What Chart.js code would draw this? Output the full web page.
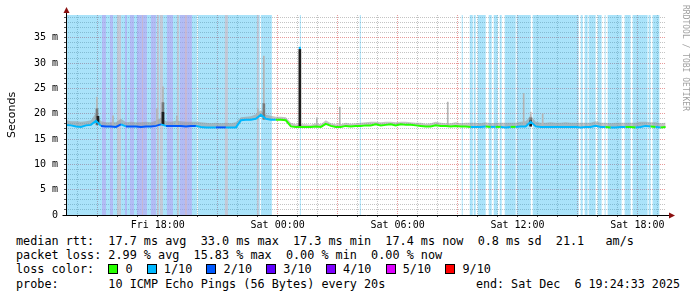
<!DOCTYPE html>
<html>
<head>
<meta charset="utf-8">
<script src="https://cdn.jsdelivr.net/npm/chart.js@4/dist/chart.umd.min.js"></script>
<style>
  html, body { margin: 0; padding: 0; background: #fff; }
  #wrap { position: relative; width: 697px; height: 297px; overflow: hidden; background: #fff; }
  #chart { position: absolute; left: 0; top: 0; }
  .legend { position: absolute; left: 16px; font-family: "DejaVu Sans Mono", monospace; font-size: 11.8px; line-height: 14px; white-space: pre; color: #000; }
  .sw { display: inline-block; width: 8px; height: 8px; border: 1px solid #000; vertical-align: -1px; }
  #end { position: absolute; right: 17px; top: 277px; font-family: "DejaVu Sans Mono", monospace; font-size: 11.7px; line-height: 14px; white-space: pre; }
  #brand { position: absolute; left: 681px; top: 5px; writing-mode: vertical-rl; font-family: "DejaVu Sans Mono", monospace; font-size: 8px; color: #a0a0a0; }
</style>
</head>
<body>
<div id="wrap">
  <canvas id="chart" width="697" height="232"></canvas>
  <div id="brand">RRDTOOL / TOBI OETIKER</div>
  <div class="legend" style="top:234px">median rtt:  17.7 ms avg  33.0 ms max  17.3 ms min  17.4 ms now  0.8 ms sd  21.1   am/s</div>
  <div class="legend" style="top:248px">packet loss: 2.99 % avg  15.83 % max  0.00 % min  0.00 % now</div>
  <div class="legend" id="lossLegend" style="top:262px"></div>
  <div class="legend" style="top:277px">probe:       10 ICMP Echo Pings (56 Bytes) every 20s</div>
  <div id="end">end: Sat Dec  6 19:24:33 2025</div>
</div>
<script>
// time axis in hours since Fri 00:00 (window Fri 13:24:33 .. Sat 19:24:33)
const startHour = 13.41;
const endHour = 43.43;
const stepHours = 0.25;
const yMax = 39.5;

const xTickHours = [18, 24, 30, 36, 42];
const xTickLabels = ['Fri 18:00', 'Sat 00:00', 'Sat 06:00', 'Sat 12:00', 'Sat 18:00'];

const lossColors = ['#26ff00', '#00b8ff', '#0059ff', '#5e00ff', '#7e00ff', '#dd00ff', '#ff0000'];
const lossLabels = ['0', '1/10', '2/10', '3/10', '4/10', '5/10', '9/10'];

// median rtt in ms, one value every 15 minutes
const medianRtt = [
  17.8, 17.7, 17.5, 17.4, 17.7, 17.8, 18.6, 17.6, 17.5, 17.5, 17.4, 17.9,
  17.5, 17.5, 17.5, 17.4, 17.5, 17.5, 17.6, 17.9, 17.6, 17.6, 17.6, 17.6,
  17.5, 17.6, 17.6, 17.4, 17.3, 17.3, 17.3, 17.3, 17.3, 17.3, 17.3, 18.7,
  18.8, 18.8, 19.0, 19.8, 19.0, 18.8, 18.8, 18.8, 18.7, 17.5, 17.4, 17.4,
  17.4, 17.4, 17.5, 17.4, 18.0, 17.6, 17.4, 17.4, 17.6, 17.5, 17.6, 17.6,
  17.7, 17.7, 17.9, 17.7, 17.8, 17.9, 17.7, 17.9, 17.8, 17.8, 17.7, 17.6,
  17.5, 17.5, 17.7, 17.6, 17.6, 17.5, 17.6, 17.5, 17.5, 17.4, 17.4, 17.4,
  17.5, 17.4, 17.4, 17.4, 17.3, 17.4, 17.4, 17.5, 17.5, 18.4, 17.5, 17.4,
  17.4, 17.4, 17.4, 17.4, 17.4, 17.4, 17.4, 17.3, 17.4, 17.4, 17.6, 17.4,
  17.4, 17.3, 17.3, 17.4, 17.4, 17.4, 17.3, 17.4, 17.6, 17.5, 17.4, 17.3,
  17.4
];

// loss level index into lossColors for each median sample
const lossLevel = [
  1, 1, 1, 1, 1, 1, 1, 2, 2, 2, 2, 1,
  2, 2, 2, 2, 2, 2, 2, 1, 2, 2, 2, 2,
  2, 2, 1, 1, 1, 1, 2, 2, 1, 1, 1, 1,
  1, 1, 1, 1, 1, 1, 0, 0, 0, 0, 0, 0,
  0, 0, 0, 0, 0, 0, 0, 0, 0, 0, 0, 0,
  0, 0, 0, 0, 0, 0, 0, 0, 0, 0, 0, 0,
  0, 0, 0, 0, 0, 0, 0, 0, 0, 1, 1, 1,
  0, 1, 0, 1, 1, 0, 1, 1, 1, 1, 1, 1,
  1, 1, 1, 1, 1, 1, 1, 1, 1, 1, 1, 1,
  0, 1, 1, 1, 0, 0, 1, 1, 1, 0, 1, 0,
  0
];

// smoke spread above the median, ms
const smokeUp = [
  0.9, 0.8, 1.0, 1.0, 0.8, 0.9, 1.6, 0.9, 0.8, 0.8, 0.9, 1.1,
  0.8, 0.9, 0.8, 0.9, 0.9, 0.8, 1.0, 1.3, 0.9, 0.8, 1.0, 0.9,
  0.9, 0.8, 0.8, 0.9, 0.9, 0.8, 0.9, 0.8, 0.9, 0.8, 1.0, 0.6,
  0.6, 0.7, 0.9, 0.9, 0.8, 0.8, 0.6, 0.6, 0.6, 0.7, 0.5, 0.5,
  0.5, 0.4, 0.6, 0.5, 0.7, 0.5, 0.5, 0.5, 0.6, 0.5, 0.5, 0.6,
  0.6, 0.7, 0.5, 0.6, 0.6, 0.5, 0.6, 0.5, 0.6, 0.5, 0.5, 0.6,
  0.5, 0.6, 0.7, 0.6, 0.5, 0.6, 0.7, 0.6, 0.7, 0.8, 0.8, 0.7,
  0.8, 0.7, 0.8, 0.8, 0.9, 0.8, 0.8, 0.9, 1.0, 1.3, 0.9, 0.8,
  0.8, 0.9, 0.8, 0.8, 0.9, 0.8, 0.8, 0.9, 0.8, 0.8, 0.9, 0.8,
  0.8, 0.8, 0.9, 0.8, 0.8, 0.8, 0.9, 1.0, 0.8, 0.8, 0.9, 0.8,
  0.8
];

// background bands [start hour, end hour]
const lossBands = [
  [13.41, 19.96], [20.01, 23.11], [23.16, 23.71],
  [25.11, 25.16], [28.11, 28.16], [33.21, 33.26], [33.61, 33.76], [33.81, 33.91],
  [34.01, 34.41], [34.56, 34.71], [34.81, 35.01], [35.11, 35.21], [35.36, 35.91],
  [35.96, 36.66], [36.76, 39.06], [39.16, 39.26], [39.36, 39.51], [39.56, 39.91],
  [40.01, 40.21], [40.36, 40.41], [40.51, 41.21], [41.36, 41.66], [41.76, 42.51],
  [42.56, 42.66], [42.76, 43.11]
];
const heavyLossBands = [
  [15.21, 15.41], [15.61, 15.76], [16.36, 16.46], [16.61, 16.81], [16.96, 17.46],
  [17.66, 17.91], [18.46, 18.76], [19.11, 19.71]
];
const outlierBands = [
  [15.96, 16.16], [17.21, 17.26], [17.96, 18.06], [18.11, 18.26], [18.96, 19.06],
  [19.36, 19.46], [21.36, 21.51], [22.96, 23.06]
];

// single smoke spikes: [hour, low ms, high ms]
const spikesLight = [
  [14.96, 17.8, 23.3], [15.76, 17.6, 19.6], [17.96, 17.6, 21.0], [18.26, 17.8, 25.3],
  [18.96, 17.6, 19.6], [23.01, 18.8, 21.0], [23.31, 18.9, 31.4], [25.96, 17.4, 19.2],
  [27.11, 17.4, 21.3], [32.51, 17.5, 22.3], [36.31, 17.4, 24.0], [36.66, 17.5, 20.3],
  [37.26, 17.4, 20.0]
];
const spikesDark = [
  [14.96, 17.8, 21.0], [18.26, 17.8, 22.2], [23.31, 18.9, 22.0], [36.66, 17.5, 19.2]
];
const spikesBlack = [
  [15.01, 18.0, 19.5], [18.26, 17.9, 20.3], [25.11, 17.4, 32.7], [36.66, 17.6, 18.6]
];
const medianPeak = [[25.11, 33.0, 1]];

function bandPoints(bands) {
  const pts = [];
  bands.forEach(([s, e]) => {
    pts.push({ x: s, y: 0 }, { x: s, y: yMax }, { x: e, y: yMax }, { x: e, y: 0 });
  });
  return pts;
}

function spikeBars(list) {
  return list.map(([h, lo, hi]) => ({ x: h, y: [lo, hi] }));
}

const sampleHours = medianRtt.map((v, i) => startHour + i * stepHours);
const medianPoints = medianRtt.map((v, i) => ({ x: sampleHours[i], y: v }));
const smokeTopPoints = medianRtt.map((v, i) => ({ x: sampleHours[i], y: v + smokeUp[i] }));

const axisPlugin = {
  id: 'rrdAxes',
  afterDatasetsDraw(chart) {
    const { ctx, chartArea } = chart;
    const x0 = Math.round(chartArea.left) + 0.5;
    const y0 = Math.round(chartArea.bottom) + 0.5;
    ctx.save();
    ctx.strokeStyle = '#000';
    ctx.lineWidth = 1;
    ctx.beginPath();
    ctx.moveTo(x0, y0);
    ctx.lineTo(x0, chartArea.top - 4);
    ctx.moveTo(x0 - 4, y0);
    ctx.lineTo(chartArea.right + 4, y0);
    ctx.stroke();
    ctx.fillStyle = '#8b1010';
    ctx.beginPath();
    ctx.moveTo(x0, chartArea.top - 8);
    ctx.lineTo(x0 - 3, chartArea.top - 2);
    ctx.lineTo(x0 + 3, chartArea.top - 2);
    ctx.closePath();
    ctx.fill();
    ctx.beginPath();
    ctx.moveTo(chartArea.right + 9, y0);
    ctx.lineTo(chartArea.right + 3, y0 - 3);
    ctx.lineTo(chartArea.right + 3, y0 + 3);
    ctx.closePath();
    ctx.fill();
    ctx.restore();
  }
};

const gridColor = (v, step) => (v % step === 0 ? '#e89a9a' : '#c4c4c4');

new Chart(document.getElementById('chart'), {
  type: 'line',
  data: {
    datasets: [
      {
        label: 'median',
        data: medianPoints,
        borderWidth: 2,
        pointRadius: 0,
        fill: false,
        order: 0,
        segment: { borderColor: ctx => lossColors[lossLevel[ctx.p0DataIndex]] }
      },
      {
        type: 'scatter',
        label: 'peak',
        data: medianPeak.map(([h, v]) => ({ x: h, y: v })),
        pointStyle: 'rect',
        pointRadius: 1.5,
        pointBackgroundColor: medianPeak.map(p => lossColors[p[2]]),
        pointBorderWidth: 0,
        order: 0
      },
      {
        type: 'bar', label: 'black', data: spikeBars(spikesBlack),
        backgroundColor: '#1e1e1e', barThickness: 2, grouped: false, order: 1
      },
      {
        type: 'bar', label: 'dark', data: spikeBars(spikesDark),
        backgroundColor: '#7a7a7a', barThickness: 2, grouped: false, order: 2
      },
      {
        type: 'bar', label: 'light', data: spikeBars(spikesLight),
        backgroundColor: '#b4b4b4', barThickness: 1, grouped: false, order: 3
      },
      {
        label: 'smokeBase', data: medianPoints,
        borderWidth: 0, pointRadius: 0, fill: false, order: 5
      },
      {
        label: 'smokeTop', data: smokeTopPoints,
        borderWidth: 0, pointRadius: 0, fill: { target: 5 },
        backgroundColor: 'rgba(150,150,150,0.55)', order: 4
      },
      {
        label: 'outliers', data: bandPoints(outlierBands),
        borderWidth: 0, pointRadius: 0, fill: 'origin',
        backgroundColor: 'rgba(213,182,190,0.6)', order: 6
      },
      {
        label: 'heavy', data: bandPoints(heavyLossBands),
        borderWidth: 0, pointRadius: 0, fill: 'origin',
        backgroundColor: 'rgba(186,149,240,0.5)', order: 7
      },
      {
        label: 'loss', data: bandPoints(lossBands),
        borderWidth: 0, pointRadius: 0, fill: 'origin',
        backgroundColor: 'rgba(12,175,241,0.35)', order: 8
      }
    ]
  },
  options: {
    responsive: false,
    animation: false,
    events: [],
    layout: { padding: { top: 15, right: 31, left: 0, bottom: 0 } },
    plugins: { legend: { display: false }, tooltip: { enabled: false } },
    scales: {
      x: {
        type: 'linear',
        min: startHour,
        max: endHour,
        offset: false,
        afterFit: s => { s.height = 17; },
        border: { display: false, dash: [1, 1] },
        grid: {
          offset: false,
          color: ctx => gridColor(ctx.tick.value, 3),
          tickColor: '#555',
          tickLength: 2,
          tickBorderDash: []
        },
        ticks: {
          stepSize: 1,
          autoSkip: false,
          includeBounds: false,
          maxRotation: 0,
          padding: 2,
          color: '#000',
          font: { family: 'DejaVu Sans Mono', size: 10 },
          callback: v => {
            const k = xTickHours.indexOf(v);
            return k >= 0 ? xTickLabels[k] : '';
          }
        }
      },
      y: {
        min: 0,
        max: yMax,
        afterFit: s => { s.width = 66; },
        border: { display: false, dash: [1, 1] },
        grid: {
          color: ctx => gridColor(ctx.tick.value, 5),
          tickColor: '#555',
          tickLength: 2,
          tickBorderDash: []
        },
        title: {
          display: true,
          text: 'Seconds',
          color: '#000',
          font: { family: 'DejaVu Sans', size: 11 },
          padding: { top: 6, bottom: 0 }
        },
        ticks: {
          stepSize: 1,
          autoSkip: false,
          includeBounds: false,
          padding: 6,
          color: '#000',
          font: { family: 'DejaVu Sans Mono', size: 10 },
          callback: v => (v % 5 === 0 ? (v === 0 ? '0' : v + ' m') : '')
        }
      }
    }
  },
  plugins: [axisPlugin]
});

// loss colour legend row
const lossLegend = document.getElementById('lossLegend');
let html = 'loss color:  ';
lossColors.forEach((c, i) => {
  html += '<span class="sw" style="background:' + c + '"></span> ' + lossLabels[i] + '  ';
});
lossLegend.innerHTML = html;
</script>
</body>
</html>
